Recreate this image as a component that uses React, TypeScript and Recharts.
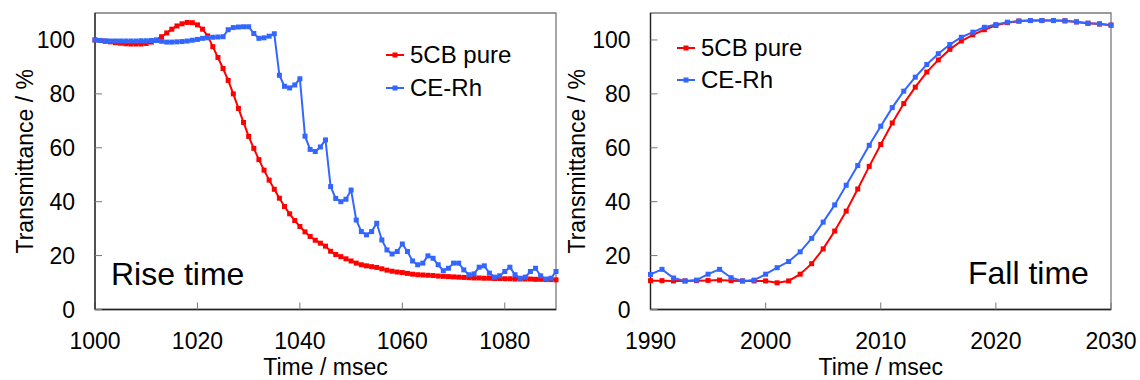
import { LineChart, Line, XAxis, YAxis, ReferenceArea, Legend } from "recharts";

const FONT = "'Liberation Sans', Arial, sans-serif";
const RED = "#ff0000";
const BLUE = "#3366ff";

// Rise time panel (msec, %)
const riseTime = [
  1000, 1001, 1002, 1003, 1004, 1005, 1006, 1007, 1008, 1009,
  1010, 1011, 1012, 1013, 1014, 1015, 1016, 1017, 1018, 1019,
  1020, 1021, 1022, 1023, 1024, 1025, 1026, 1027, 1028, 1029,
  1030, 1031, 1032, 1033, 1034, 1035, 1036, 1037, 1038, 1039,
  1040, 1041, 1042, 1043, 1044, 1045, 1046, 1047, 1048, 1049,
  1050, 1051, 1052, 1053, 1054, 1055, 1056, 1057, 1058, 1059,
  1060, 1061, 1062, 1063, 1064, 1065, 1066, 1067, 1068, 1069,
  1070, 1071, 1072, 1073, 1074, 1075, 1076, 1077, 1078, 1079,
  1080, 1081, 1082, 1083, 1084, 1085, 1086, 1087, 1088, 1089,
  1090,
];
const rise5CB = [
  100, 99.8, 99.5, 99.3, 99.0, 98.8, 98.6, 98.5, 98.5, 98.5,
  98.7, 99.2, 100, 101.2, 102.6, 104, 105.2, 106, 106.5, 106.4,
  105.6, 104, 101.5, 97.5, 93.5, 89.4, 85, 80, 74.6, 69.4,
  64.2, 59.8, 55.6, 51.7, 48, 44.6, 41.3, 38.2, 35.5, 33,
  30.8, 28.8, 27.1, 25.7, 24.6, 23.5, 21.6, 20.4, 19.6, 18.8,
  18, 17.2, 16.6, 16.2, 15.9, 15.6, 15.1, 14.6, 14.2, 13.9,
  13.7, 13.4, 13.1, 12.9, 12.8, 12.7, 12.6, 12.4, 12.3, 12.2,
  12.1, 12.0, 11.9, 11.8, 11.7, 11.7, 11.6, 11.6, 11.5, 11.5,
  11.4, 11.4, 11.3, 11.3, 11.3, 11.3, 11.2, 11.2, 11.1, 11.1,
  11.0,
];
const riseCERh = [
  100, 99.8, 99.7, 99.6, 99.6, 99.6, 99.6, 99.6, 99.6, 99.7,
  99.7, 99.8, 99.8, 99.5, 99.2, 99.2, 99.3, 99.4, 99.6, 99.9,
  100.2, 100.6, 100.8, 101, 101.1, 101.2, 103.8, 104.6, 104.8, 104.9,
  104.9, 102.4, 100.6, 100.8, 101.4, 102.3, 86.9, 82.8, 82.2, 83.3,
  85.6, 64.3, 59.4, 58.6, 60.3, 62.9, 45.6, 41.2, 40, 40.9,
  44.3, 33.2, 28.9, 27.7, 28.9, 32, 25.8, 22.1, 20.6, 21.5,
  24.3, 21.5, 18, 16.6, 17.2, 19.9, 19, 16.6, 14.4, 15.3,
  17.2, 17.2, 14.7, 12.9, 13.2, 15.7, 16.2, 13.5, 12, 12.5,
  14.1, 15.7, 12.9, 11.6, 12, 14.1, 15.3, 12.5, 11.3, 11.6,
  14.1,
];

// Fall time panel
const fallTime = [
  1990, 1991, 1992, 1993, 1994, 1995, 1996, 1997, 1998, 1999,
  2000, 2001, 2002, 2003, 2004, 2005, 2006, 2007, 2008, 2009,
  2010, 2011, 2012, 2013, 2014, 2015, 2016, 2017, 2018, 2019,
  2020, 2021, 2022, 2023, 2024, 2025, 2026, 2027, 2028, 2029,
  2030,
];
const fall5CB = [
  10.7, 10.7, 10.6, 10.6, 10.7, 10.8, 10.9, 10.7, 10.6, 10.6,
  10.6, 9.9, 10.6, 13.1, 17, 22.5, 29.1, 36.5, 44.7, 53.1,
  61.2, 69.2, 76.4, 82.5, 88.1, 92.6, 96.5, 99.6, 101.9, 103.8,
  105.4, 106.4, 107, 107.2, 107.2, 107.2, 107.1, 106.7, 106.2, 105.9,
  105.5,
];
const fallCERh = [
  13, 14.9, 11.7, 10.6, 10.9, 13.1, 14.9, 11.8, 10.6, 10.9,
  13.1, 15.5, 17.8, 21.4, 26.4, 32.4, 38.8, 46.1, 53.4, 60.9,
  68, 74.9, 81, 86.2, 90.9, 94.9, 98.3, 101, 102.9, 104.7,
  105.7, 106.6, 107, 107.2, 107.2, 107.2, 107.1, 106.7, 106.2, 106,
  105.5,
];

const riseTicks = [1000, 1020, 1040, 1060, 1080];
const fallTicks = [1990, 2000, 2010, 2020, 2030];
const yTicks = [0, 20, 40, 60, 80, 100];

const riseData = riseTime.map((t, i) => ({ t, pure: rise5CB[i], ceRh: riseCERh[i] }));
const fallData = fallTime.map((t, i) => ({ t, pure: fall5CB[i], ceRh: fallCERh[i] }));

const squareDot = (color: string) => (props: any) => {
  const { cx, cy, index } = props;
  if (cx == null || cy == null) return <g key={index} />;
  return <rect key={index} x={cx - 2.5} y={cy - 2.5} width={5} height={5} fill={color} />;
};

const LegendBox = ({ payload, rowH }: any) => (
  <div style={{ fontFamily: FONT }}>
    {(payload || []).map((p: any) => (
      <div key={p.value} style={{ display: "flex", alignItems: "center", height: rowH }}>
        <svg width={18} height={10} style={{ marginRight: 6 }}>
          <line x1={0} y1={5} x2={18} y2={5} stroke={p.color} strokeWidth={2} />
          <rect x={6.5} y={2.5} width={5} height={5} fill={p.color} />
        </svg>
        <span style={{ fontSize: 24, color: "#000", lineHeight: 1 }}>{p.value}</span>
      </div>
    ))}
  </div>
);

interface PanelProps {
  data: any[];
  width: number;
  yAxisWidth: number;
  rightMargin: number;
  domain: [number, number];
  ticks: number[];
  titleX: number;
  legendPos: { left: number; top: number; rowH: number };
  note: string;
  noteX: number;
  noteY: number;
}

function Panel(p: PanelProps) {
  const tickStyle = { fill: "#000", fontSize: 23, fontFamily: FONT };
  return (
    <LineChart
      width={p.width}
      height={380}
      data={p.data}
      margin={{ top: 13, right: p.rightMargin, bottom: 0, left: 0 }}
    >
      <ReferenceArea
        x1={p.domain[0]}
        x2={p.domain[1]}
        y1={0}
        y2={110}
        fill="none"
        stroke="#7a7a7a"
        strokeWidth={1.3}
      />
      <XAxis
        dataKey="t"
        type="number"
        domain={p.domain}
        ticks={p.ticks}
        height={70.5}
        tickSize={-7}
        tickMargin={30}
        tick={tickStyle}
        tickLine={{ stroke: "#777" }}
        axisLine={{ stroke: "#222", strokeWidth: 1.3 }}
        label={{
          content: (lp: any) => {
            const vb = lp.viewBox;
            return (
              <text x={vb.x + vb.width / 2} y={vb.y + 65.5} textAnchor="middle" fontSize={23} fill="#000" fontFamily={FONT}>
                Time / msec
              </text>
            );
          },
        }}
      />
      <YAxis
        type="number"
        domain={[0, 110]}
        ticks={yTicks}
        width={p.yAxisWidth}
        tickSize={-7}
        tickMargin={27}
        tick={tickStyle}
        tickLine={{ stroke: "#777" }}
        axisLine={{ stroke: "#222", strokeWidth: 1.3 }}
        label={{
          content: (lp: any) => {
            const vb = lp.viewBox;
            const cx = vb.x + p.titleX;
            const cy = vb.y + vb.height / 2;
            return (
              <text x={cx} y={cy} transform={`rotate(-90 ${cx} ${cy})`} textAnchor="middle" fontSize={23} fill="#000" fontFamily={FONT}>
                Transmittance / %
              </text>
            );
          },
        }}
      />
      <Legend
        layout="horizontal"
        verticalAlign="middle"
        align="center"
        wrapperStyle={{ left: p.legendPos.left, top: p.legendPos.top, width: "auto" }}
        content={(lp: any) => <LegendBox payload={lp.payload} rowH={p.legendPos.rowH} />}
      />
      <Line
        dataKey="pure"
        name="5CB pure"
        type="linear"
        stroke={RED}
        strokeWidth={2}
        dot={squareDot(RED)}
        activeDot={false}
        isAnimationActive={false}
      />
      <Line
        dataKey="ceRh"
        name="CE-Rh"
        type="linear"
        stroke={BLUE}
        strokeWidth={2}
        dot={squareDot(BLUE)}
        activeDot={false}
        isAnimationActive={false}
      />
      <text x={p.noteX} y={p.noteY} fontSize={32} fill="#000" fontFamily={FONT}>
        {p.note}
      </text>
    </LineChart>
  );
}

export default function App() {
  return (
    <div style={{ position: "absolute", left: 0, top: 0, width: 1140, height: 380, background: "#fff" }}>
      <div style={{ position: "absolute", left: 0, top: 0 }}>
        <Panel
          data={riseData}
          width={570}
          yAxisWidth={95}
          rightMargin={14}
          domain={[1000, 1090]}
          ticks={riseTicks}
          titleX={33}
          legendPos={{ left: 386, top: 38.5, rowH: 33 }}
          note="Rise time"
          noteX={111}
          noteY={285}
        />
      </div>
      <div style={{ position: "absolute", left: 560, top: 0 }}>
        <Panel
          data={fallData}
          width={580}
          yAxisWidth={90.5}
          rightMargin={29}
          domain={[1990, 2030]}
          ticks={fallTicks}
          titleX={25}
          legendPos={{ left: 117, top: 32, rowH: 32 }}
          note="Fall time"
          noteX={408}
          noteY={284}
        />
      </div>
    </div>
  );
}
